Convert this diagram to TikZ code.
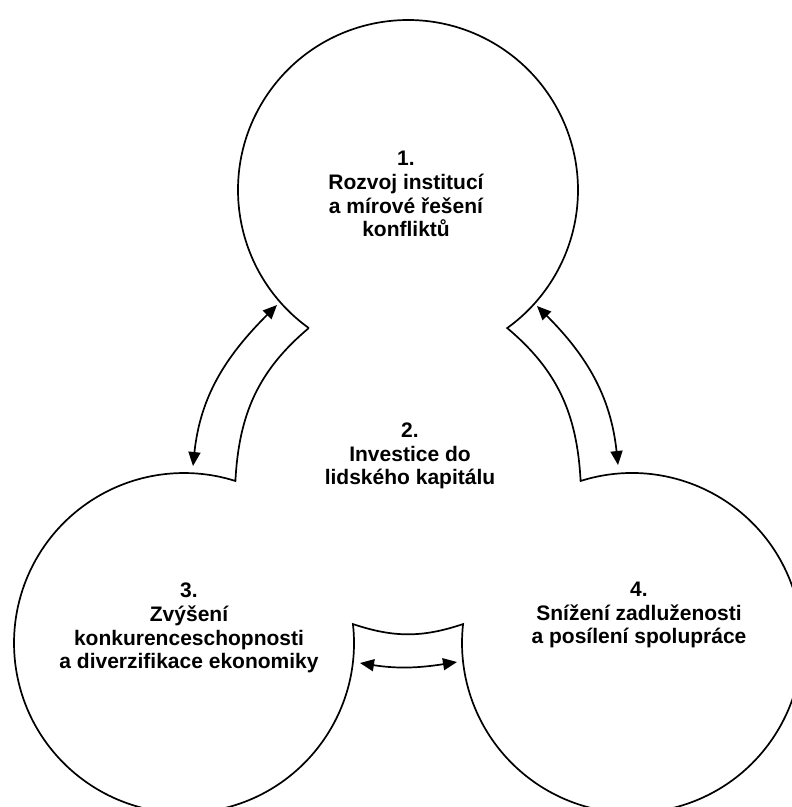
\documentclass[tikz,border=0pt]{standalone}
\usepackage{fontspec}
\setmainfont{Liberation Sans}
\usetikzlibrary{arrows.meta}
\begin{document}
\begin{tikzpicture}[x=1pt,y=1pt,
  outline/.style={line width=1.7pt, black, line join=miter},
  dblarrow/.style={line width=1.7pt, {Triangle[length=14pt,width=12pt]}-{Triangle[length=14pt,width=12pt]}},
  lbl/.style={align=center, font=\bfseries\fontsize{21}{23.8}\selectfont, inner sep=0pt}]
\useasboundingbox (0,0) rectangle (792,-807);
\fill[white] (0,0) rectangle (792,-807);
\clip (0,0) rectangle (792,-807);
\coordinate (T) at (408,-190);
\coordinate (BL) at (184,-643);
\coordinate (BR) at (632,-643);
\path (T) ++(-125.7:170) coordinate (PL);
\path (BL) ++(72.4:170) coordinate (QL);
\path (BR) ++(107.6:170) coordinate (QR);
\path (BR) ++(173.6:170) coordinate (NR);
\path (BL) ++(6.4:170) coordinate (NL);
\draw[outline] (PL) arc[start angle=-125.7, end angle=-414.3, radius=170pt]
   to[out=320,in=93] (QR)
   arc[start angle=107.6, end angle=-186.4, radius=170pt]
   to[out=198.6,in=-18.6] (NL)
   arc[start angle=6.4, end angle=-287.6, radius=170pt]
   to[out=87,in=220] (PL);
\node[lbl] (n1) at (406,-194) {1.\\Rozvoj institucí\\a mírové řešení\\konfliktů};
\node[lbl] (n2) at (410,-456) {2.\\Investice do\\lidského kapitálu};
\node[lbl] (n3) at (189,-628) {3.\\Zvýšení\\konkurenceschopnosti\\a diverzifikace ekonomiky};
\node[lbl] (n4) at (639,-615) {4.\\Snížení zadluženosti\\a posílení spolupráce};
\coordinate (a1) at (193,-466);
\coordinate (a2) at (277,-305);
\draw[dblarrow] (a1) to[out=84,in=225] (a2);
\coordinate (b1) at (618,-465);
\coordinate (b2) at (537,-306);
\draw[dblarrow] (b1) to[out=96,in=315] (b2);
\coordinate (c1) at (360,-663);
\coordinate (c2) at (457,-662);
\draw[dblarrow] (c1) to[out=-9,in=189] (c2);
\end{tikzpicture}
\end{document}
